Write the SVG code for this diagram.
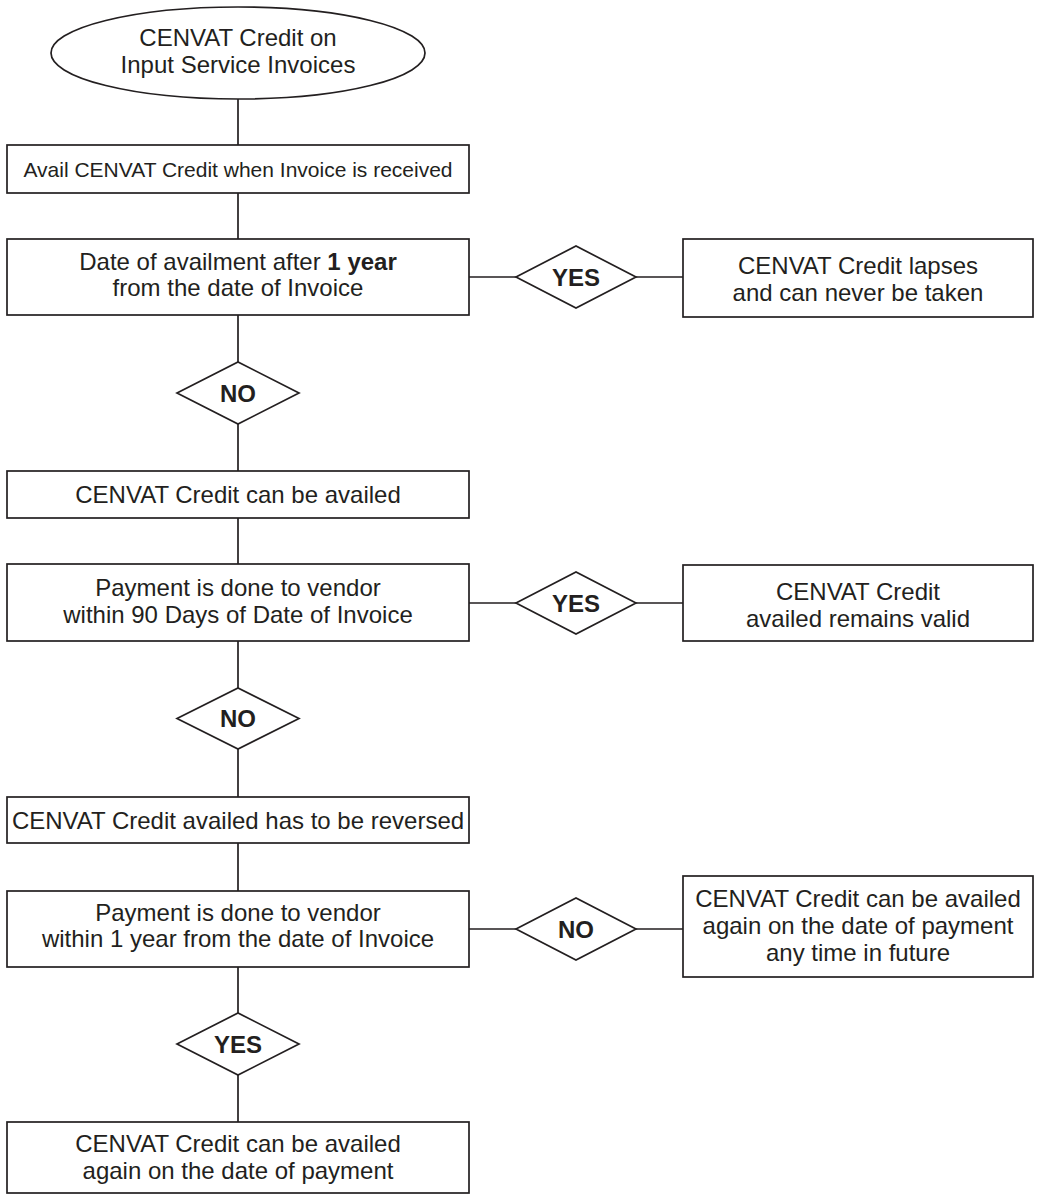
<svg xmlns="http://www.w3.org/2000/svg" width="1039" height="1194" viewBox="0 0 1039 1194">
<style>
.s{fill:#fff;stroke:#231f20;stroke-width:1.7}
.c{fill:none;stroke:#231f20;stroke-width:1.7}
text{font-family:"Liberation Sans",Arial,Helvetica,sans-serif;font-size:24px;fill:#231f20;text-anchor:middle}
.b{font-weight:bold}
.sm{font-size:21px}
</style>
<rect width="1039" height="1194" fill="#fff"/>
<g id="connectors">
<path class="c" d="M238 99V145M238 193V239M238 315V362M238 424V471M238 518V564M238 641V688M238 749V797M238 843V891M238 967V1013M238 1075V1122"/>
<path class="c" d="M469 277H516M636 277H683M469 603H516M636 603H683M469 929H516M636 929H683"/>
</g>
<g id="start">
<ellipse class="s" cx="238" cy="53" rx="187" ry="46"/>
<text x="238" y="46">CENVAT Credit on</text>
<text x="238" y="73">Input Service Invoices</text>
</g>
<g id="avail">
<rect class="s" x="7" y="145" width="462" height="48"/>
<text class="sm" x="238" y="177">Avail CENVAT Credit when Invoice is received</text>
</g>
<g id="check1">
<rect class="s" x="7" y="239" width="462" height="76"/>
<text x="238" y="270">Date of availment after <tspan class="b">1 year</tspan></text>
<text x="238" y="296">from the date of Invoice</text>
</g>
<g id="yes1">
<polygon class="s" points="516,277 576,246 636,277 576,308"/>
<text class="b" x="576" y="285.5">YES</text>
</g>
<g id="lapses">
<rect class="s" x="683" y="239" width="350" height="78"/>
<text x="858" y="274">CENVAT Credit lapses</text>
<text x="858" y="301">and can never be taken</text>
</g>
<g id="no1">
<polygon class="s" points="177,393 238,362 299,393 238,424"/>
<text class="b" x="238" y="401.5">NO</text>
</g>
<g id="canavail">
<rect class="s" x="7" y="471" width="462" height="47"/>
<text x="238" y="503">CENVAT Credit can be availed</text>
</g>
<g id="check2">
<rect class="s" x="7" y="564" width="462" height="77"/>
<text x="238" y="596">Payment is done to vendor</text>
<text x="238" y="622.5">within 90 Days of Date of Invoice</text>
</g>
<g id="yes2">
<polygon class="s" points="516,603 576,572 636,603 576,634"/>
<text class="b" x="576" y="611.5">YES</text>
</g>
<g id="valid">
<rect class="s" x="683" y="565" width="350" height="76"/>
<text x="858" y="600">CENVAT Credit</text>
<text x="858" y="627">availed remains valid</text>
</g>
<g id="no2">
<polygon class="s" points="177,718.5 238,688 299,718.5 238,749"/>
<text class="b" x="238" y="727">NO</text>
</g>
<g id="reversed">
<rect class="s" x="7" y="797" width="462" height="46"/>
<text x="238" y="829">CENVAT Credit availed has to be reversed</text>
</g>
<g id="check3">
<rect class="s" x="7" y="891" width="462" height="76"/>
<text x="238" y="921">Payment is done to vendor</text>
<text x="238" y="947">within 1 year from the date of Invoice</text>
</g>
<g id="no3">
<polygon class="s" points="516,929 576,898 636,929 576,960"/>
<text class="b" x="576" y="937.5">NO</text>
</g>
<g id="future">
<rect class="s" x="683" y="876" width="350" height="101"/>
<text x="858" y="907">CENVAT Credit can be availed</text>
<text x="858" y="934">again on the date of payment</text>
<text x="858" y="961">any time in future</text>
</g>
<g id="yes3">
<polygon class="s" points="177,1044 238,1013 299,1044 238,1075"/>
<text class="b" x="238" y="1052.5">YES</text>
</g>
<g id="again">
<rect class="s" x="7" y="1122" width="462" height="71"/>
<text x="238" y="1152">CENVAT Credit can be availed</text>
<text x="238" y="1179">again on the date of payment</text>
</g>
</svg>
